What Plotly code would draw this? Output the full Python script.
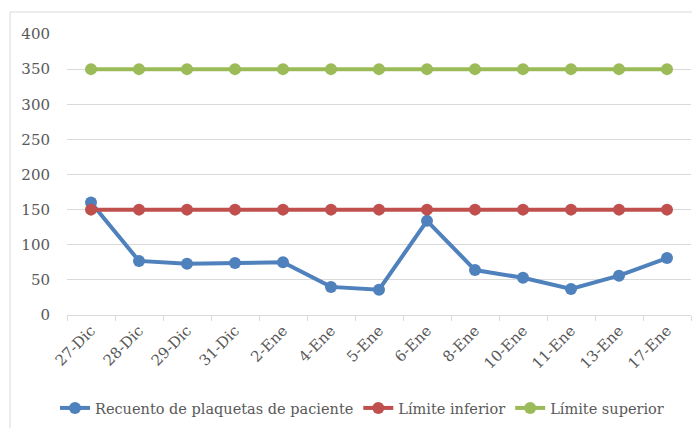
import plotly.graph_objects as go

categories = ["27-Dic", "28-Dic", "29-Dic", "31-Dic", "2-Ene", "4-Ene", "5-Ene",
              "6-Ene", "8-Ene", "10-Ene", "11-Ene", "13-Ene", "17-Ene"]
recuento = [160, 77, 73, 74, 75, 40, 36, 134, 64, 53, 37, 56, 81]
limite_inferior = [150] * 13
limite_superior = [350] * 13
y_ticks = [0, 50, 100, 150, 200, 250, 300, 350, 400]

FONT = "DejaVu Serif"
GRAY = "#595959"

fig = go.Figure()
series = [
    ("Recuento de plaquetas de paciente", recuento, "#4F81BD"),
    ("Límite inferior", limite_inferior, "#C0504D"),
    ("Límite superior", limite_superior, "#9BBB59"),
]
for name, vals, col in series:
    fig.add_trace(go.Scatter(
        x=categories, y=vals, name=name, mode="lines+markers",
        line=dict(color=col, width=4),
        marker=dict(color=col, size=12),
    ))

# page body has an 8px margin; target screen geometry of plot area:
OFF = 8
L, R, T, B = 67, 9, 34, 113          # in screen pixels
W, H = 700, 428
pw = W - L - R
ph = H - T - B
bottom_px = H - B                     # screen y of plot bottom

fig.update_layout(
    width=W, height=H,
    margin=dict(l=L - OFF, r=R + OFF, t=T - OFF, b=B + OFF, autoexpand=False),
    paper_bgcolor="white", plot_bgcolor="white",
    font=dict(family=FONT, color=GRAY, size=13),
    showlegend=True,
    legend=dict(orientation="h", x=(362 - L) / pw, xanchor="center",
                y=-(408 - bottom_px) / ph, yanchor="middle",
                font=dict(size=14.5, color=GRAY), itemwidth=30,
                tracegroupgap=0),
    xaxis=dict(type="category", tickangle=-45, showgrid=False,
               showline=True, linecolor="#d9d9d9", linewidth=1,
               ticks="outside", tickson="boundaries", ticklen=5,
               tickcolor="#d9d9d9", tickfont=dict(size=15, color=GRAY),
               automargin=False,
               range=[-0.5, len(categories) - 0.5]),
    yaxis=dict(range=[0, 400], tickvals=y_ticks, showgrid=True,
               gridcolor="#d9d9d9", gridwidth=1, zeroline=False,
               showline=False, ticks="", tickfont=dict(size=15, color=GRAY),
               automargin=False, ticklabelstandoff=16),
    shapes=[dict(type="rect", xref="paper", yref="paper",
                 x0=(10 - L) / pw, x1=(705 - L) / pw,
                 y0=-(440 - bottom_px) / ph, y1=(bottom_px - 12) / ph,
                 line=dict(color="#d9d9d9", width=1), layer="below")],
)

fig.write_html("out.html")
